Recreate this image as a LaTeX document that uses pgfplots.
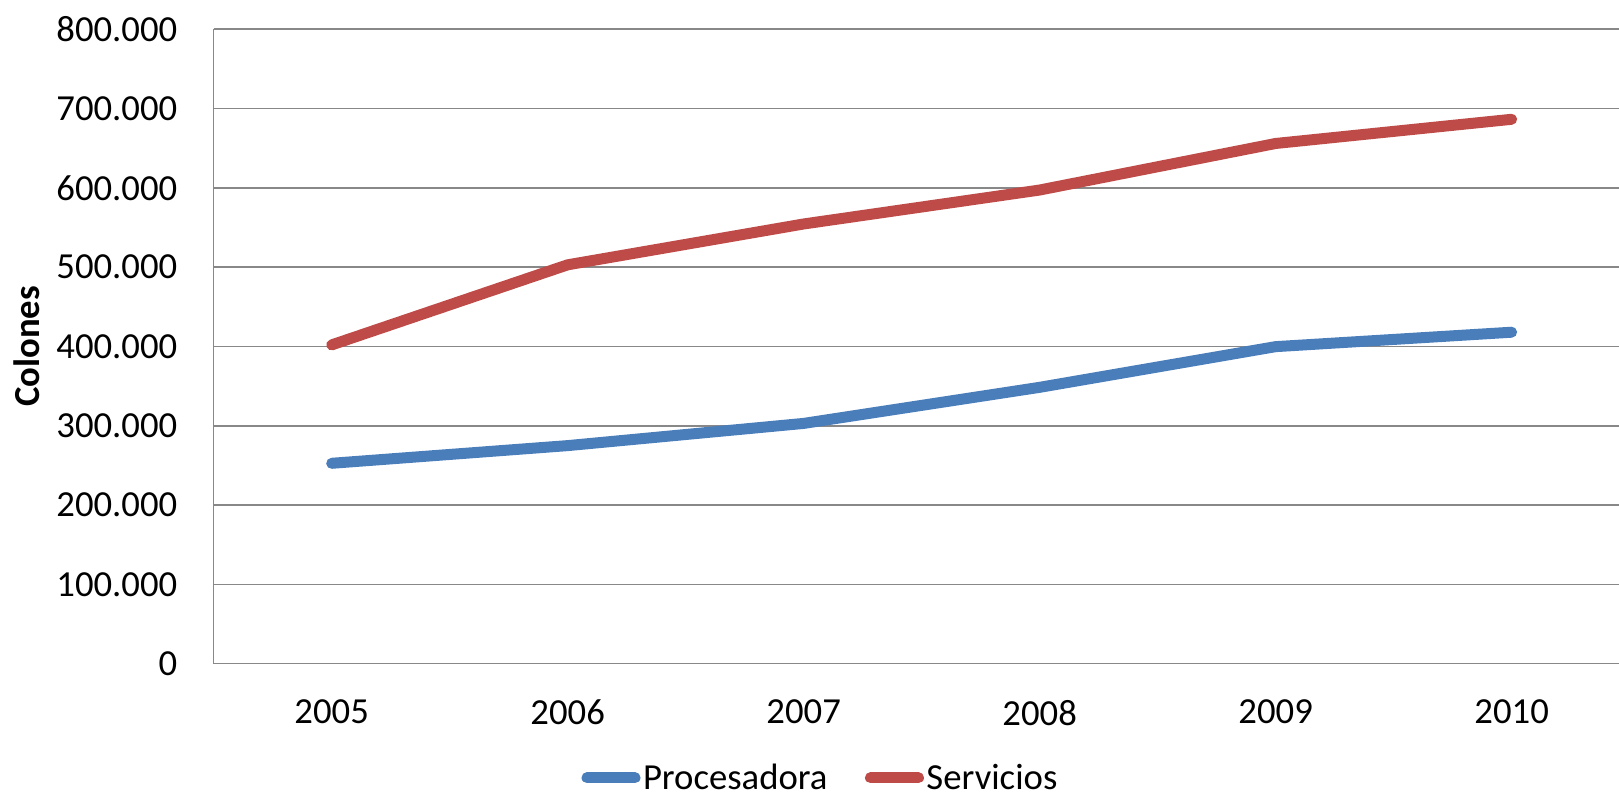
\documentclass[border=0pt]{standalone}
\usepackage{fontspec}
\setmainfont{Carlito}
\usepackage{pgfplots}
\usepackage{pgfplotstable}
\pgfplotsset{compat=1.18}

\definecolor{procblue}{HTML}{4A7EBB}
\definecolor{servred}{HTML}{BE4B48}
\definecolor{gridgray}{HTML}{888888}
\newcommand\chartfont{\fontsize{18.35pt}{22pt}\selectfont}

% Values in thousands of colones, one row per year (0 = 2005)
\pgfplotstableread{
year proc  serv
0    252.7 402.0
1    275.0 503.0
2    303.0 554.5
3    348.5 597.3
4    399.8 656.0
5    418.0 686.5
}\datatable

\begin{document}
\begin{tikzpicture}
\useasboundingbox (-106.85pt,-66.15pt) rectangle (702.65pt,331.85pt);
\begin{axis}[
  at={(0pt,0pt)}, anchor=south west,
  scale only axis, width=702.65pt, height=317.2pt,
  xmin=-0.5, xmax=5.455, ymin=0, ymax=800,
  axis x line=bottom, axis y line=left,
  axis line style={-, draw=gridgray, line width=0.8pt},
  xtick={0,1,2,3,4,5},
  xticklabels={2005,2006,2007,2008,2009,2010},
  ytick={0,100,200,300,400,500,600,700,800},
  yticklabels={0,100.000,200.000,300.000,400.000,500.000,600.000,700.000,800.000},
  major tick length=0pt,
  ymajorgrids, grid style={gridgray, line width=0.8pt},
  tick label style={font=\chartfont},
  xticklabel style={anchor=north, inner sep=0pt, yshift=-18pt},
  yticklabel style={anchor=east, inner sep=0pt, xshift=-18pt},
  ylabel={\bfseries Colones},
  ylabel style={at={(axis description cs:-0.13335,0.5)}, anchor=center, font=\chartfont},
  legend style={at={(axis description cs:0.4291,-0.1800)}, anchor=center,
    draw=none, fill=none, font=\chartfont, inner sep=0pt,
    nodes={inner sep=0pt},
    /tikz/every even column/.append style={column sep=16pt}},
  legend columns=2,
  legend image code/.code={
    \path (0pt,0pt) (28pt,0pt);
    \draw[#1, line width=5.5pt, line cap=round] (2.75pt,0pt) -- (26.75pt,0pt);
  },
]
\addplot[procblue, line width=5.5pt, line cap=round, line join=round]
  table[x=year, y=proc]{\datatable};
\addlegendentry{Procesadora}
\addplot[servred, line width=5.5pt, line cap=round, line join=round]
  table[x=year, y=serv]{\datatable};
\addlegendentry{Servicios}
\end{axis}
\end{tikzpicture}
\end{document}
